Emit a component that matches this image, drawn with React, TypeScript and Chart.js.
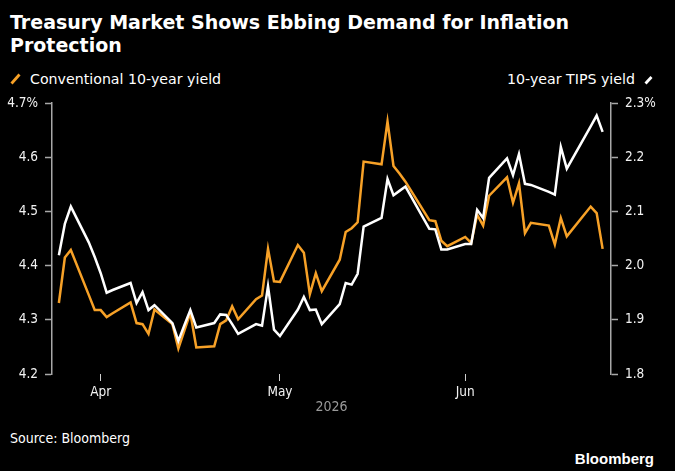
import { useEffect, useRef } from 'react';
import { Chart, registerables } from 'chart.js';

Chart.register(...registerables);

const dates = [
  '2026-03-25', '2026-03-26', '2026-03-27', '2026-03-30', '2026-03-31',
  '2026-04-01', '2026-04-02', '2026-04-03', '2026-04-06', '2026-04-07',
  '2026-04-08', '2026-04-09', '2026-04-10', '2026-04-13', '2026-04-14',
  '2026-04-15', '2026-04-16', '2026-04-17', '2026-04-20', '2026-04-21',
  '2026-04-22', '2026-04-23', '2026-04-24', '2026-04-27', '2026-04-28',
  '2026-04-29', '2026-04-30', '2026-05-01', '2026-05-04', '2026-05-05',
  '2026-05-06', '2026-05-07', '2026-05-08', '2026-05-11', '2026-05-12',
  '2026-05-13', '2026-05-14', '2026-05-15', '2026-05-18', '2026-05-19',
  '2026-05-20', '2026-05-21', '2026-05-22', '2026-05-26', '2026-05-27',
  '2026-05-28', '2026-05-29', '2026-06-01', '2026-06-02', '2026-06-03',
  '2026-06-04', '2026-06-05', '2026-06-08', '2026-06-09', '2026-06-10',
  '2026-06-11', '2026-06-12', '2026-06-15', '2026-06-16', '2026-06-17',
  '2026-06-18', '2026-06-22', '2026-06-23', '2026-06-24',
];

const conventional = [
  4.331, 4.415, 4.429, 4.346, 4.318,
  4.318, 4.305, 4.312, 4.332, 4.294,
  4.292, 4.274, 4.319, 4.292, 4.247,
  4.280, 4.313, 4.249, 4.251, 4.292,
  4.299, 4.325, 4.301, 4.338, 4.345,
  4.431, 4.371, 4.370, 4.438, 4.424,
  4.347, 4.386, 4.353, 4.411, 4.462,
  4.469, 4.480, 4.592, 4.587, 4.666,
  4.584, 4.570, 4.555, 4.484, 4.482,
  4.446, 4.436, 4.453, 4.442, 4.494,
  4.474, 4.529, 4.563, 4.516, 4.552,
  4.460, 4.479, 4.474, 4.439, 4.488,
  4.454, 4.509, 4.497, 4.431,
];

const tips = [
  2.019, 2.077, 2.109, 2.043, 2.016,
  1.986, 1.950, 1.955, 1.968, 1.931,
  1.951, 1.918, 1.927, 1.894, 1.861,
  1.890, 1.918, 1.886, 1.894, 1.910,
  1.909, 1.892, 1.874, 1.892, 1.889,
  1.962, 1.882, 1.870, 1.919, 1.942,
  1.918, 1.919, 1.892, 1.929, 1.968,
  1.965, 1.985, 2.072, 2.088, 2.160,
  2.130, 2.138, 2.146, 2.068, 2.067,
  2.030, 2.030, 2.040, 2.040, 2.103,
  2.088, 2.162, 2.198, 2.167, 2.206,
  2.151, 2.149, 2.136, 2.131, 2.219,
  2.179, 2.257, 2.277, 2.247,
];

const monthTickDates = ['2026-04-01', '2026-05-01', '2026-06-01'];
const monthTickLabels = ['Apr', 'May', 'Jun'];
const yearLabel = '2026';

const leftRange = [4.2, 4.7];
const rightRange = [1.8, 2.3];

const ORANGE = '#F7A127';
const WHITE = '#FFFFFF';
const AXIS = '#A8A8A8';
const AXIS_FONT = "'DejaVu Sans Condensed', 'DejaVu Sans'";

const BASE = Date.UTC(2026, 3, 1);
function dayOffset(s: string): number {
  const [y, m, d] = s.split('-').map(Number);
  return Math.round((Date.UTC(y, m - 1, d) - BASE) / 86400000);
}

function fmt(v: number, max: number): string {
  const s = v.toFixed(1);
  return Math.abs(v - max) < 1e-6 ? s + '%' : s;
}

function App() {
  const ref = useRef<HTMLCanvasElement | null>(null);

  useEffect(() => {
    if (!ref.current) return;
    const xs = dates.map(dayOffset);
    const tickDays = monthTickDates.map(dayOffset);
    const chart = new Chart(ref.current, {
      type: 'line',
      data: {
        datasets: [
          {
            label: '10-year TIPS yield',
            data: xs.map((x, i) => ({ x, y: tips[i] })),
            borderColor: WHITE,
            borderWidth: 2.5,
            pointRadius: 0,
            tension: 0,
            yAxisID: 'y1',
          },
          {
            label: 'Conventional 10-year yield',
            data: xs.map((x, i) => ({ x, y: conventional[i] })),
            borderColor: ORANGE,
            borderWidth: 2.5,
            pointRadius: 0,
            tension: 0,
            yAxisID: 'y',
          },
        ],
      },
      options: {
        animation: false,
        responsive: false,
        maintainAspectRatio: false,
        layout: { padding: { top: 14, left: 0, right: 0, bottom: 0 } },
        plugins: { legend: { display: false }, tooltip: { enabled: false } },
        scales: {
          x: {
            type: 'linear',
            min: -8.15,
            max: 85.4,
            afterBuildTicks: (s: any) => {
              s.ticks = tickDays.map((v) => ({ value: v }));
            },
            afterFit: (s: any) => {
              s.height = 54;
            },
            ticks: {
              autoSkip: false,
              maxRotation: 0,
              padding: 3,
              color: '#F2F2F2',
              font: { family: AXIS_FONT, size: 13.5 },
              callback: (_v: any, i: number) => monthTickLabels[i],
            },
            grid: {
              display: true,
              drawOnChartArea: false,
              drawTicks: true,
              tickLength: 7,
              tickColor: '#CFCFCF',
              tickWidth: 1,
            },
            border: { display: false },
            title: {
              display: true,
              text: yearLabel,
              color: '#9A9A9A',
              font: { family: AXIS_FONT, size: 14 },
              padding: { top: 0, bottom: 12 },
            },
          },
          y: {
            position: 'left',
            min: leftRange[0],
            max: leftRange[1],
            afterFit: (s: any) => {
              s.width = 52;
            },
            ticks: {
              stepSize: 0.1,
              padding: 7,
              color: '#F2F2F2',
              font: { family: AXIS_FONT, size: 13.5 },
              callback: (v: any) => fmt(Number(v), leftRange[1]),
            },
            grid: {
              display: true,
              drawOnChartArea: false,
              drawTicks: true,
              tickLength: 7,
              tickColor: AXIS,
              tickWidth: 1.5,
            },
            border: { display: true, color: AXIS, width: 1.5 },
          },
          y1: {
            position: 'right',
            min: rightRange[0],
            max: rightRange[1],
            afterFit: (s: any) => {
              s.width = 64;
            },
            ticks: {
              stepSize: 0.1,
              padding: 7,
              color: '#F2F2F2',
              font: { family: AXIS_FONT, size: 13.5 },
              callback: (v: any) => fmt(Number(v), rightRange[1]),
            },
            grid: {
              display: true,
              drawOnChartArea: false,
              drawTicks: true,
              tickLength: 7,
              tickColor: AXIS,
              tickWidth: 1.5,
            },
            border: { display: true, color: AXIS, width: 1.5 },
          },
        },
      },
    } as any);
    return () => chart.destroy();
  }, []);

  const text: React.CSSProperties = { position: 'absolute', whiteSpace: 'nowrap', margin: 0 };

  return (
    <div
      style={{
        position: 'fixed',
        left: 0,
        top: 0,
        width: 675,
        height: 471,
        background: '#000',
        overflow: 'hidden',
        color: '#fff',
      }}
    >
      <div
        style={{
          ...text,
          left: 10,
          top: 11,
          fontFamily: "'DejaVu Sans', sans-serif",
          fontWeight: 'bold',
          fontSize: 19,
          lineHeight: '23px',
          whiteSpace: 'normal',
          width: 650,
        }}
      >
        Treasury Market Shows Ebbing Demand for Inflation
        <br />
        Protection
      </div>

      <svg style={{ position: 'absolute', left: 0, top: 0 }} width={675} height={100}>
        <line x1={11.5} y1={83.5} x2={19.5} y2={74.5} stroke={ORANGE} strokeWidth={2.8} />
        <line x1={645.5} y1={83.5} x2={651.5} y2={77} stroke={WHITE} strokeWidth={2.8} />
      </svg>
      <div
        style={{
          ...text,
          left: 30,
          top: 70,
          fontFamily: "'DejaVu Sans', sans-serif",
          fontSize: 14.2,
          lineHeight: '18px',
        }}
      >
        Conventional 10-year yield
      </div>
      <div
        style={{
          ...text,
          right: 40,
          top: 70,
          fontFamily: "'DejaVu Sans', sans-serif",
          fontSize: 14.2,
          lineHeight: '18px',
        }}
      >
        10-year TIPS yield
      </div>

      <canvas
        ref={ref}
        width={675}
        height={340}
        style={{ position: 'absolute', left: 0, top: 88, width: 675, height: 340 }}
      />

      <div
        style={{
          ...text,
          left: 10,
          top: 430,
          fontFamily: AXIS_FONT,
          fontSize: 14,
          lineHeight: '17px',
        }}
      >
        Source: Bloomberg
      </div>
      <div
        style={{
          ...text,
          right: 21,
          top: 450,
          fontFamily: "'Liberation Sans', Arial, sans-serif",
          fontWeight: 'bold',
          fontSize: 15,
          lineHeight: '17px',
        }}
      >
        Bloomberg
      </div>
    </div>
  );
}

export default App;
